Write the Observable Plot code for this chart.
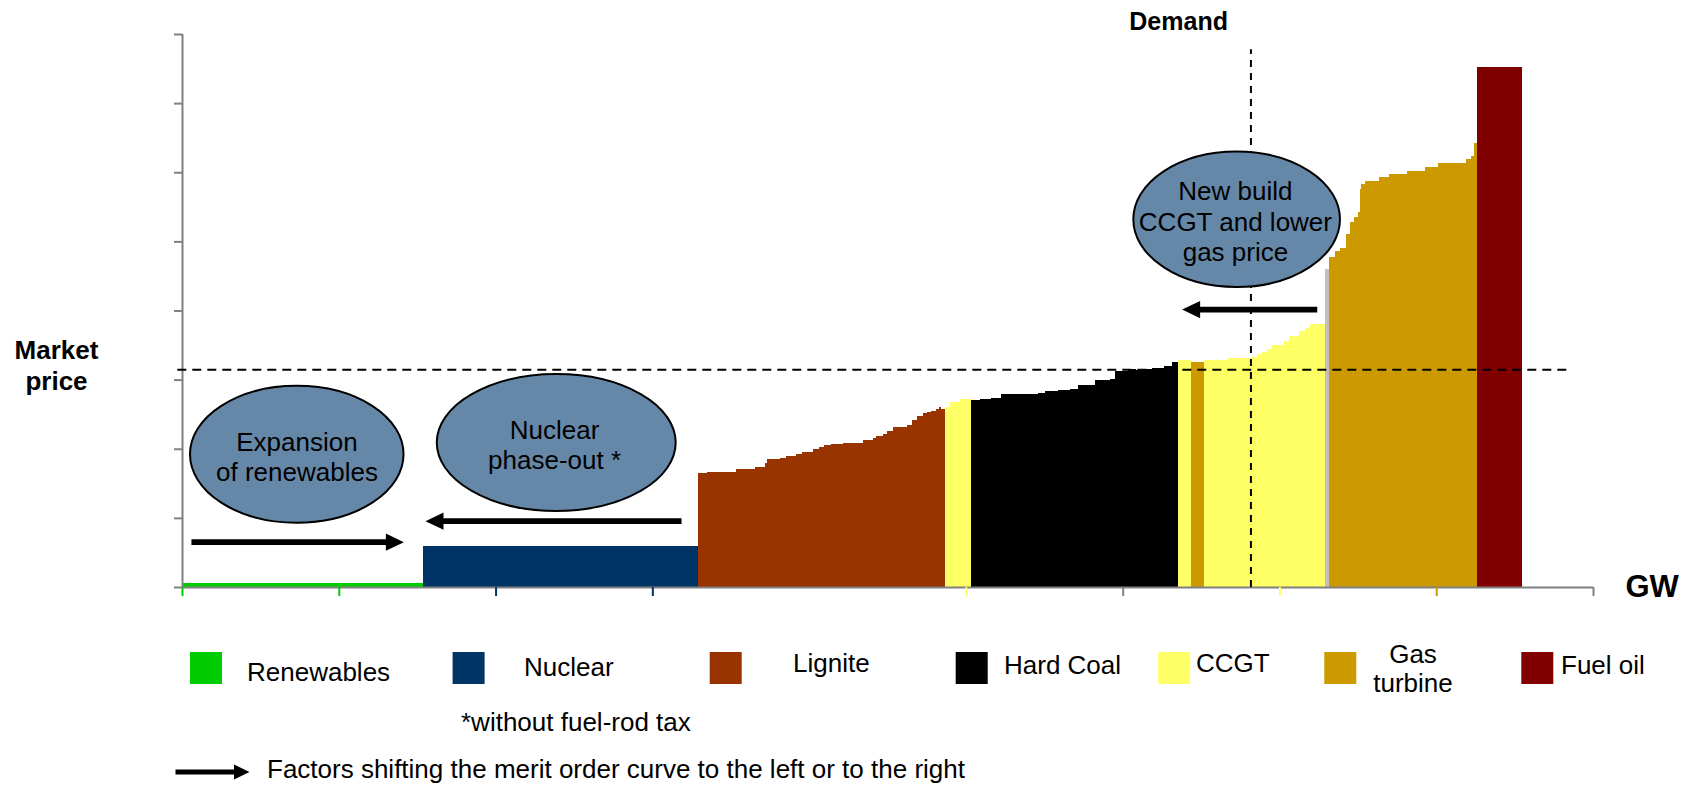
<!DOCTYPE html>
<html>
<head>
<meta charset="utf-8">
<script src="https://cdn.jsdelivr.net/npm/d3@7"></script>
<script src="https://cdn.jsdelivr.net/npm/@observablehq/plot@0.6"></script>
<style>
  html, body { margin: 0; padding: 0; background: #ffffff; }
  #chart { width: 1694px; height: 787px; overflow: hidden; font-family: "Liberation Sans", Arial, sans-serif; }
  #chart svg { display: block; }
</style>
</head>
<body>
<div id="chart"></div>
<script>
// Generation technologies and their colours
const techs = ["Renewables", "Nuclear", "Lignite", "Hard Coal", "CCGT", "Gas turbine", "Fuel oil", "Other"];
const techColors = ["#00cc00", "#003366", "#993300", "#000000", "#ffff66", "#cc9900", "#800000", "#c0c0c0"];
const legendTechs = ["Renewables", "Nuclear", "Lignite", "Hard Coal", "CCGT", "Gas turbine", "Fuel oil"];

// Plant blocks: capacity (GW) and marginal cost (relative price units), in merit order
const renewablesGW = [15.39];
const renewablesPrice = [0.06];
const nuclearGW = [17.50];
const nuclearPrice = [0.59];
const ligniteGW = [0.57, 1.88, 0.64, 0.57, 0.64, 0.10, 0.85, 0.39, 0.64, 0.36, 0.31, 0.39, 0.42, 0.30, 0.45, 0.74, 1.28,
                   0.25, 0.43, 0.17, 0.47, 0.21, 0.43, 0.85, 0.36, 0.27, 0.39, 0.25, 0.26, 0.34, 0.21, 0.11, 0.25];
const lignitePrice = [1.65, 1.67, 1.70, 1.71, 1.73, 1.80, 1.85, 1.86, 1.89, 1.93, 1.95, 1.96, 1.99, 2.02, 2.06, 2.07, 2.09,
                      2.12, 2.13, 2.16, 2.19, 2.22, 2.26, 2.31, 2.35, 2.41, 2.47, 2.51, 2.53, 2.55, 2.57, 2.61, 2.58];
const ccgtEarlyGW = [0.32, 0.64, 0.72];
const ccgtEarlyPrice = [2.60, 2.67, 2.72];
const hardCoalGW = [0.56, 0.70, 0.64, 2.34, 0.47, 0.84, 0.75, 0.53, 1.06, 0.96, 0.28, 0.89, 0.49, 0.36, 0.64, 0.75, 0.53, 0.37];
const hardCoalPrice = [2.71, 2.72, 2.74, 2.79, 2.81, 2.83, 2.85, 2.87, 2.92, 2.99, 3.01, 3.12, 3.16, 3.14, 3.16, 3.17, 3.20, 3.26];
const ccgtMidGW = [0.84];
const ccgtMidPrice = [3.28];
const gasTurbineEarlyGW = [0.81];
const gasTurbineEarlyPrice = [3.26];
const ccgtLateGW = [1.59, 1.49, 0.36, 0.28, 0.32, 0.32, 0.79, 0.27, 0.68, 0.39, 0.32, 0.96];
const ccgtLatePrice = [3.29, 3.31, 3.33, 3.37, 3.40, 3.45, 3.50, 3.56, 3.63, 3.70, 3.74, 3.80];
const otherGW = [0.20];
const otherPrice = [4.60];
const gasTurbineGW = [0.43, 0.28, 0.42, 0.21, 0.26, 0.25, 0.13, 0.09, 0.28, 0.84, 0.64, 1.18, 1.16, 0.79, 1.83, 0.30, 0.21, 0.17];
const gasTurbinePrice = [4.77, 4.86, 4.91, 5.11, 5.28, 5.35, 5.43, 5.76, 5.83, 5.88, 5.93, 5.98, 6.02, 6.07, 6.13, 6.19, 6.24, 6.43];
const fuelOilGW = [2.88];
const fuelOilPrice = [7.52];

// Demand level (GW) and resulting market price
const demandGW = 68.15;
const demandTop = 7.78;
const marketPrice = 3.15;
const marketLineFrom = -0.3;
const marketLineTo = 88.4;

// Axis ticks (no labels) and the technology colour each tick takes
const xTicks = [0, 10, 20, 30, 50, 60, 70, 80, 90];
const xTickTech = ["Renewables", "Renewables", "Nuclear", "Nuclear", "CCGT", "Axis", "CCGT", "Gas turbine", "Axis"];
const yTicks = [0, 1, 2, 3, 4, 5, 6, 7, 8];

// Effects shifting the curve: bubble centre / half-axes (data units) and labels
const bubbleX = [7.32, 23.87, 67.27];
const bubbleY = [1.92, 2.09, 5.32];
const bubbleRx = [6.81, 7.62, 6.59];
const bubbleRy = [0.99, 0.99, 0.98];
const bubbleText = ["Expansion\nof renewables", "Nuclear\nphase-out *", "New build\nCCGT and lower\ngas price"];
const bubbleTextX = [7.30, 23.73, 67.16];
const bubbleTextY = [1.90, 2.07, 5.30];

// Shift arrows: tail and tip (GW) at a price level
const arrowTail = [0.57, 31.83, 72.38];
const arrowTip = [14.12, 15.50, 63.76];
const arrowLevel = [0.655, 0.96, 4.02];

// ---- derived tables ----
const colorOf = new Map(techs.map((t, i) => [t, techColors[i]]));
colorOf.set("Axis", "#808080");

const segments = [
  ["Renewables", renewablesGW, renewablesPrice],
  ["Nuclear", nuclearGW, nuclearPrice],
  ["Lignite", ligniteGW, lignitePrice],
  ["CCGT", ccgtEarlyGW, ccgtEarlyPrice],
  ["Hard Coal", hardCoalGW, hardCoalPrice],
  ["CCGT", ccgtMidGW, ccgtMidPrice],
  ["Gas turbine", gasTurbineEarlyGW, gasTurbineEarlyPrice],
  ["CCGT", ccgtLateGW, ccgtLatePrice],
  ["Other", otherGW, otherPrice],
  ["Gas turbine", gasTurbineGW, gasTurbinePrice],
  ["Fuel oil", fuelOilGW, fuelOilPrice]
];
const blocks = [];
let cumulative = 0;
for (const [tech, gw, price] of segments) {
  gw.forEach((w, i) => {
    blocks.push({tech, x1: cumulative, x2: cumulative + w, price: price[i]});
    cumulative += w;
  });
}

const bubbles = bubbleX.map((x, i) => ({x, y: bubbleY[i], rx: bubbleRx[i], ry: bubbleRy[i],
  text: bubbleText[i], tx: bubbleTextX[i], ty: bubbleTextY[i]}));
const arrows = arrowTail.map((tail, i) => ({tail, tip: arrowTip[i], y: arrowLevel[i], dir: Math.sign(arrowTip[i] - tail)}));

// Filled triangular arrow head, tip at the origin pointing right
const arrowHead = {
  draw(ctx) {
    ctx.moveTo(0, 0);
    ctx.lineTo(-18, -8.6);
    ctx.lineTo(-18, 8.6);
    ctx.closePath();
  }
};

// Bubbles drawn as ellipses sized through the x and y scales
function bubbleMark(index, scales) {
  const g = d3.create("svg:g");
  g.selectAll("ellipse")
    .data(bubbles)
    .join("ellipse")
    .attr("cx", d => scales.x(d.x))
    .attr("cy", d => scales.y(d.y))
    .attr("rx", d => Math.abs(scales.x(d.x + d.rx) - scales.x(d.x)))
    .attr("ry", d => Math.abs(scales.y(d.y + d.ry) - scales.y(d.y)))
    .attr("fill", "#6688a8")
    .attr("stroke", "#000000")
    .attr("stroke-width", 2);
  return g.node();
}

const font = '"Liberation Sans", Arial, sans-serif';

const chart = Plot.plot({
  width: 1694,
  height: 615,
  marginLeft: 182,
  marginRight: 101,
  marginTop: 34,
  marginBottom: 28,
  x: {domain: [0, 90], axis: null},
  y: {domain: [0, 8], axis: null},
  color: {type: "identity"},
  style: {fontFamily: font, background: "#ffffff", overflow: "visible"},
  marks: [
    // merit order curve
    Plot.rectY(blocks, {
      x1: "x1", x2: "x2", y1: 0, y2: "price",
      fill: d => colorOf.get(d.tech), shapeRendering: "crispEdges"
    }),
    // axes
    Plot.ruleX([0], {y1: 0, y2: 8, stroke: "#808080", strokeWidth: 2}),
    Plot.ruleY([0], {x1: 0, x2: 90, stroke: "#808080", strokeWidth: 2}),
    Plot.axisY(yTicks, {tickSize: 8, stroke: "#808080", strokeWidth: 2, tickFormat: () => ""}),
    Plot.axisX(xTicks, {
      tickSize: 9, strokeWidth: 2, tickFormat: () => "",
      stroke: v => colorOf.get(xTickTech[xTicks.indexOf(v)])
    }),
    // market price and demand
    Plot.ruleY([marketPrice], {x1: marketLineFrom, x2: marketLineTo, stroke: "#000000", strokeWidth: 2, strokeDasharray: "9,6"}),
    Plot.ruleX([demandGW], {y1: 0, y2: demandTop, stroke: "#000000", strokeWidth: 2, strokeDasharray: "7,6"}),
    // effect bubbles
    bubbleMark,
    Plot.text(bubbles, {x: "tx", y: "ty", text: "text", fontSize: 26, lineHeight: 1.17, fill: "#000000"}),
    // shift arrows
    Plot.link(arrows, {
      x1: "tail", x2: d => d.tip - d.dir * 0.8, y1: "y", y2: "y",
      stroke: "#000000", strokeWidth: 5.8, strokeLinecap: "butt"
    }),
    Plot.dot(arrows, {
      x: "tip", y: "y", symbol: arrowHead, rotate: d => (d.dir > 0 ? 0 : 180),
      fill: "#000000", stroke: "none"
    }),
    // axis titles and labels
    Plot.text(["Market\nprice"], {
      x: 0, y: marketPrice, text: d => d, dx: -126, dy: -5.5,
      fontSize: 26, fontWeight: "bold", lineHeight: 1.19, fill: "#000000"
    }),
    Plot.text(["Demand"], {
      x: demandGW, y: 8, text: d => d, dx: -23, dy: -12.7, textAnchor: "end",
      fontSize: 25, fontWeight: "bold", fill: "#000000"
    }),
    Plot.text(["GW"], {
      x: 90, y: 0, text: d => d, dx: 32, textAnchor: "start",
      fontSize: 31, fontWeight: "bold", fill: "#000000"
    })
  ]
});

document.getElementById("chart").appendChild(chart);

// ---- legend and notes below the chart ----
const legendLayout = [
  {swatchX: 190, textX: 247, baseline: 66, anchor: "start"},
  {swatchX: 452.6, textX: 524, baseline: 61, anchor: "start"},
  {swatchX: 709.7, textX: 793, baseline: 57, anchor: "start"},
  {swatchX: 955.7, textX: 1004, baseline: 59, anchor: "start"},
  {swatchX: 1158.2, textX: 1196, baseline: 57, anchor: "start"},
  {swatchX: 1324.3, textX: 1413, baseline: 48, anchor: "middle"},
  {swatchX: 1521.3, textX: 1561, baseline: 59, anchor: "start"}
];

const legend = d3.create("svg")
  .attr("width", 1694)
  .attr("height", 172)
  .style("font-family", font)
  .style("display", "block");

legendTechs.forEach((tech, i) => {
  const L = legendLayout[i];
  legend.append("rect")
    .attr("x", L.swatchX).attr("y", 37)
    .attr("width", 32).attr("height", 32)
    .attr("fill", colorOf.get(tech));
  const words = tech === "Gas turbine" ? ["Gas", "turbine"] : [tech];
  const t = legend.append("text")
    .attr("x", L.textX).attr("y", L.baseline)
    .attr("text-anchor", L.anchor)
    .attr("font-size", 26)
    .attr("fill", "#000000");
  words.forEach((w, j) => {
    t.append("tspan").attr("x", L.textX).attr("dy", j === 0 ? 0 : 29).text(w);
  });
});

legend.append("text")
  .attr("x", 461).attr("y", 116)
  .attr("font-size", 26).attr("fill", "#000000")
  .text("*without fuel-rod tax");

// arrow key
legend.append("line")
  .attr("x1", 175.5).attr("x2", 236).attr("y1", 157).attr("y2", 157)
  .attr("stroke", "#000000").attr("stroke-width", 5);
legend.append("path")
  .attr("d", "M249.5,157 L234,149.5 L234,164.5 Z")
  .attr("fill", "#000000");
legend.append("text")
  .attr("x", 267).attr("y", 163)
  .attr("font-size", 26).attr("fill", "#000000")
  .text("Factors shifting the merit order curve to the left or to the right");

document.getElementById("chart").appendChild(legend.node());
</script>
</body>
</html>
